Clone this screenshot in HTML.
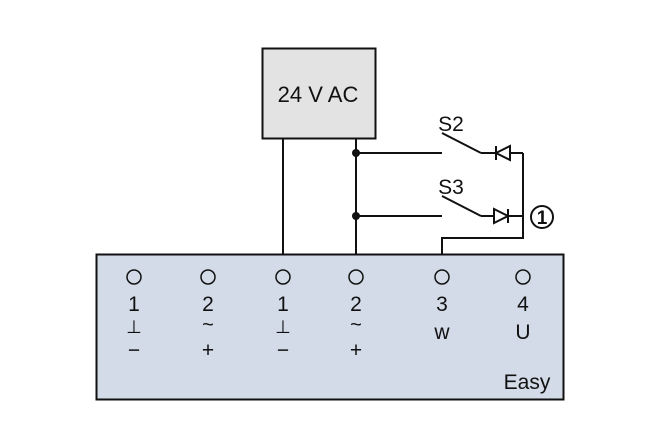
<!DOCTYPE html>
<html><head><style>body{margin:0;background:#fff}svg{display:block}</style></head><body>
<svg width="660" height="448" viewBox="0 0 660 448" xmlns="http://www.w3.org/2000/svg" font-family="Liberation Sans, sans-serif" fill="#111">
<rect x="96.5" y="254.5" width="467" height="145" fill="#d3dbe8" stroke="#111" stroke-width="2"/>
<rect x="262.5" y="48.5" width="113" height="90" fill="#e3e3e3" stroke="#111" stroke-width="2"/>
<text x="318" y="102" font-size="22" text-anchor="middle">24 V AC</text>
<g stroke="#111" stroke-width="2" fill="none">
<line x1="283" y1="138" x2="283" y2="254"/>
<line x1="356" y1="138" x2="356" y2="254"/>
<line x1="356" y1="153" x2="442" y2="153"/>
<line x1="356" y1="216" x2="442" y2="216"/>
<line x1="442" y1="133" x2="481" y2="153"/>
<line x1="442" y1="196" x2="481" y2="216"/>
<line x1="481" y1="153" x2="523" y2="153"/>
<line x1="481" y1="216" x2="523" y2="216"/>
<polyline points="523,153 523,238 442,238 442,254"/>
<line x1="496" y1="146" x2="496" y2="160"/>
<polygon points="496,153 510,146 510,160" fill="#fff"/>
<line x1="508" y1="209" x2="508" y2="223"/>
<polygon points="508,216 494,209 494,223" fill="#fff"/>
<circle cx="542" cy="217" r="11" fill="#fff"/>
</g>
<circle cx="356" cy="153" r="4"/>
<circle cx="356" cy="216" r="4"/>
<text x="542" y="224" font-size="19" font-weight="bold" text-anchor="middle">1</text>
<text x="451" y="131" font-size="21" text-anchor="middle">S2</text>
<text x="451" y="194" font-size="21" text-anchor="middle">S3</text>
<g stroke="#111" stroke-width="1.5" fill="none">
<circle cx="134" cy="277" r="7"/><circle cx="208" cy="277" r="7"/><circle cx="283" cy="277" r="7"/><circle cx="356" cy="277" r="7"/><circle cx="442" cy="277" r="7"/><circle cx="523" cy="277" r="7"/>
</g>
<g font-size="21" text-anchor="middle">
<text x="134" y="311">1</text><text x="208" y="311">2</text><text x="283" y="311">1</text><text x="356" y="311">2</text><text x="442" y="311">3</text><text x="523" y="311">4</text>
<text x="134" y="333" font-size="18">⊥</text><text x="208" y="331" font-size="20">~</text><text x="283" y="333" font-size="18">⊥</text><text x="356" y="331" font-size="20">~</text>
<text x="442" y="339">w</text><text x="523" y="339">U</text>
<text x="134" y="357">−</text><text x="208" y="357">+</text><text x="283" y="357">−</text><text x="356" y="357">+</text>
<text x="527" y="389">Easy</text>
</g>
</svg>
</body></html>
